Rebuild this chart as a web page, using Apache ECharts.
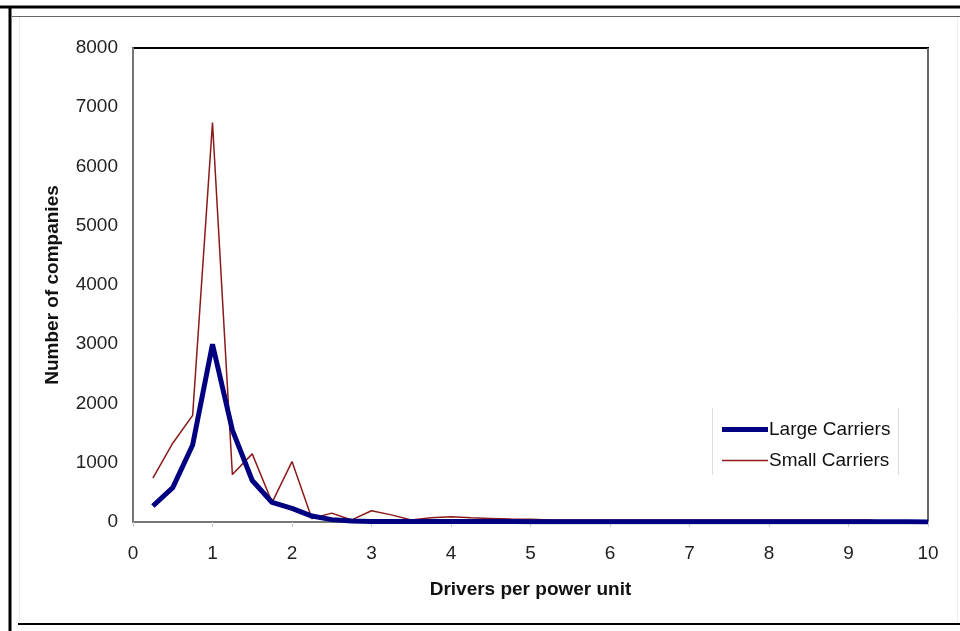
<!DOCTYPE html>
<html>
<head>
<meta charset="utf-8">
<script src="https://cdn.jsdelivr.net/npm/echarts@6/dist/echarts.min.js"></script>
<style>
  html, body { margin: 0; padding: 0; background: #fff; }
  #chart { width: 960px; height: 631px; }
</style>
</head>
<body>
<div id="chart"></div>
<script>
// drivers per power unit (x positions of the points)
const driversPerUnit = [
  0.25, 0.5, 0.75, 1, 1.25, 1.5, 1.75, 2, 2.25, 2.5, 2.75, 3, 3.25, 3.5, 3.75, 4,
  4.25, 4.5, 4.75, 5, 5.25, 5.5, 5.75, 6, 6.25, 6.5, 6.75, 7, 7.25, 7.5, 7.75, 8,
  8.25, 8.5, 8.75, 9, 9.25, 9.5, 9.75, 10
]
// number of companies
const largeCarriers = [
  270, 580, 1300, 3000, 1550, 700, 330, 230, 100, 40, 15, 10, 8, 8, 8, 8,
  7, 7, 7, 6, 6, 6, 6, 6, 5, 5, 5, 5, 5, 5, 5, 5,
  4, 4, 4, 4, 4, 3, 3, 2
]
const smallCarriers = [
  740, 1330, 1800, 6740, 800, 1150, 330, 1020, 60, 150, 35, 190, 120, 35, 70, 90,
  70, 60, 50, 45, 35, 35, 35, 35, 35, 35, 35, 35, 35, 35, 35, 35,
  35, 35, 35, 35, 32, 5, 3, 0
]
const seriesNames = ['Large Carriers', 'Small Carriers']

const font = '"Liberation Sans", Arial, sans-serif'
const chart = echarts.init(document.getElementById('chart'))

const pairs = ys => driversPerUnit.map((x, i) => [x, ys[i]])

chart.setOption({
  animation: false,
  backgroundColor: '#fff',
  textStyle: { fontFamily: font },
  grid: { left: 133, right: 32, top: 48, bottom: 109 },
  legend: {
    left: 717, top: 415,
    orient: 'vertical',
    itemWidth: 46, itemHeight: 14, itemGap: 12,
    textStyle: { fontFamily: font, fontSize: 19, color: '#111', padding: [0, 0, 0, -4] },
    data: [
      { name: seriesNames[0], icon: 'path://M0,0 H46 V5 H0 Z' },
      { name: seriesNames[1], icon: 'path://M0,0 H46 V1.5 H0 Z' }
    ]
  },
  xAxis: {
    type: 'value', min: 0, max: 10, interval: 1,
    name: 'Drivers per power unit',
    nameLocation: 'middle', nameGap: 58,
    nameTextStyle: { fontFamily: font, fontSize: 19, fontWeight: 'bold', color: '#111' },
    axisLine: { show: true, lineStyle: { color: '#777', width: 2 } },
    axisTick: { show: true, length: 5, lineStyle: { color: '#ccc' } },
    axisLabel: { fontFamily: font, fontSize: 19, color: '#222', margin: 22 },
    splitLine: { show: false }
  },
  yAxis: {
    type: 'value', min: 0, max: 8000, interval: 1000,
    name: 'Number of companies',
    nameLocation: 'middle', nameGap: 71, nameRotate: 90,
    nameTextStyle: { fontFamily: font, fontSize: 19, fontWeight: 'bold', color: '#111' },
    axisLine: { show: true, lineStyle: { color: '#777', width: 2 } },
    axisTick: { show: false },
    axisLabel: { fontFamily: font, fontSize: 19, color: '#222', margin: 15, formatter: v => String(v) },
    splitLine: { show: false }
  },
  graphic: [
    // outer frame
    { type: 'line', shape: { x1: 0, y1: 7, x2: 960, y2: 7 }, style: { stroke: '#000', lineWidth: 3 } },
    { type: 'line', shape: { x1: 10, y1: 7, x2: 10, y2: 631 }, style: { stroke: '#000', lineWidth: 3 } },
    { type: 'line', shape: { x1: 18, y1: 624, x2: 960, y2: 624 }, style: { stroke: '#000', lineWidth: 2 } },
    { type: 'line', shape: { x1: 12, y1: 16.5, x2: 960, y2: 16.5 }, style: { stroke: '#666', lineWidth: 1 } },
    { type: 'line', shape: { x1: 19.5, y1: 17, x2: 19.5, y2: 622 }, style: { stroke: '#eee', lineWidth: 1 } },
    { type: 'line', shape: { x1: 957.5, y1: 17, x2: 957.5, y2: 622 }, style: { stroke: '#eee', lineWidth: 1 } },
    // plot area border
    { type: 'line', shape: { x1: 132, y1: 48, x2: 929, y2: 48 }, style: { stroke: '#000', lineWidth: 2 } },
    { type: 'line', shape: { x1: 928, y1: 48, x2: 928, y2: 522 }, style: { stroke: '#666', lineWidth: 2 } },
    // legend box
    { type: 'line', shape: { x1: 712.5, y1: 408, x2: 712.5, y2: 475 }, style: { stroke: '#ddd', lineWidth: 1 } },
    { type: 'line', shape: { x1: 898.5, y1: 408, x2: 898.5, y2: 475 }, style: { stroke: '#ddd', lineWidth: 1 } }
  ],
  series: [
    {
      name: seriesNames[0], type: 'line', data: pairs(largeCarriers),
      symbol: 'none', z: 3,
      lineStyle: { color: '#000080', width: 5 },
      itemStyle: { color: '#000080' }
    },
    {
      name: seriesNames[1], type: 'line', data: pairs(smallCarriers),
      symbol: 'none', z: 2,
      lineStyle: { color: '#8B1A1A', width: 1.5 },
      itemStyle: { color: '#8B1A1A' }
    }
  ]
})
</script>
</body>
</html>
